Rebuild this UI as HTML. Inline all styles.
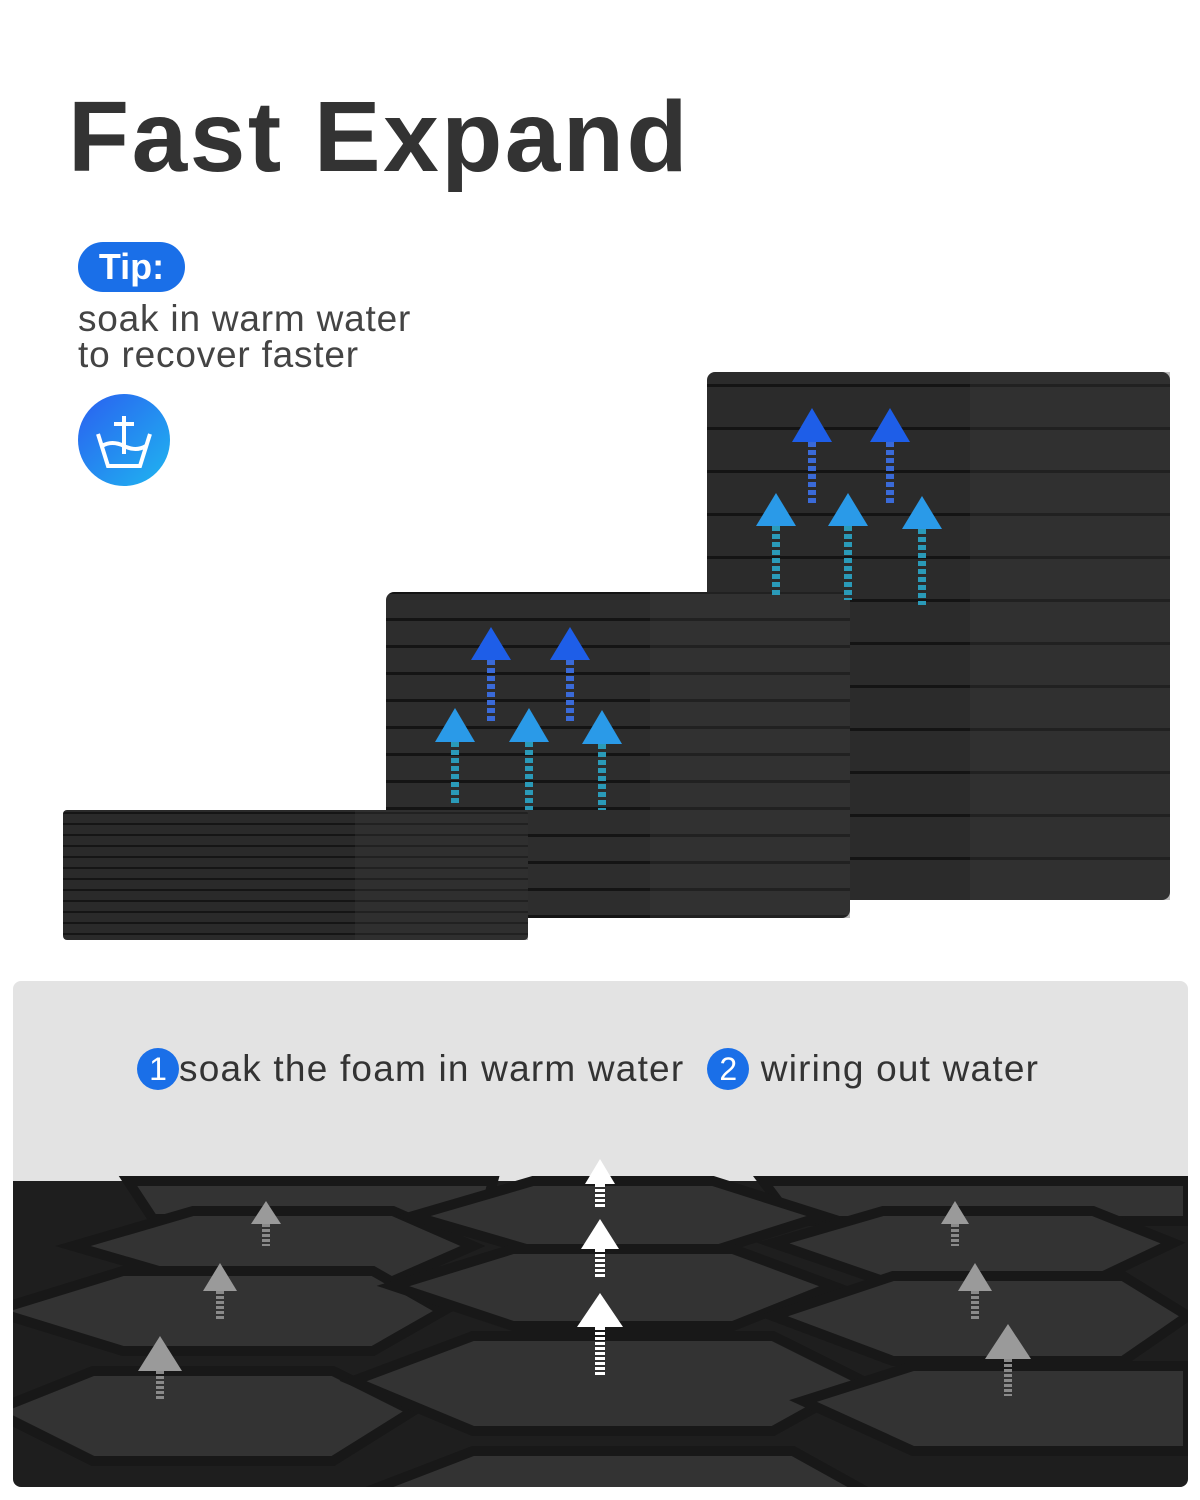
<!DOCTYPE html>
<html><head><meta charset="utf-8"><style>
html,body{margin:0;padding:0;background:#fff;}
body{width:1200px;height:1500px;position:relative;overflow:hidden;font-family:"Liberation Sans",sans-serif;}
.t{position:absolute;}
</style></head><body>
<div class="t" style="left:68px;top:80px;font-size:100px;font-weight:bold;color:#333;letter-spacing:2.5px;">Fast Expand</div>
<div class="t" style="left:78px;top:242px;width:107px;height:50px;border-radius:25px;background:#1a6fe8;color:#fff;font-weight:bold;font-size:36px;line-height:50px;text-align:center;">Tip:</div>
<div class="t" style="left:78px;top:301px;font-size:37px;color:#444;line-height:36px;letter-spacing:0.8px;">soak in warm water<br>to recover faster</div>
<div class="t" style="left:78px;top:394px;width:92px;height:92px;border-radius:50%;background:linear-gradient(135deg,#2a5ff0,#1fb6f0);"></div>
<svg class="t" style="left:78px;top:394px" width="92" height="92"><g fill="none" stroke="#fff" stroke-width="4"><path d="M20 40 L30 72 H62 L72 40"/><path d="M24 52 Q34 46 46 52 Q58 58 68 52"/><path d="M46 22 V60"/><path d="M36 30 H56"/></g></svg>

<svg class="t" style="left:0;top:0" width="1200" height="980">
<defs>
<pattern id="lay" width="10" height="43" patternUnits="userSpaceOnUse"><rect width="10" height="43" fill="#2b2b2b"/><rect y="40" width="10" height="3" fill="#141414"/></pattern>
<pattern id="lay2" width="10" height="27" patternUnits="userSpaceOnUse"><rect width="10" height="27" fill="#2d2d2d"/><rect y="24" width="10" height="3" fill="#141414"/></pattern>
<pattern id="lay3" width="10" height="11" patternUnits="userSpaceOnUse"><rect width="10" height="11" fill="#2a2a2a"/><rect y="9" width="10" height="2" fill="#151515"/></pattern>
</defs>
<rect x="707" y="372" width="463" height="528" rx="8" fill="url(#lay)"/>
<rect x="970" y="372" width="200" height="528" fill="#383838" opacity=".35"/>
<rect x="386" y="592" width="464" height="326" rx="8" fill="url(#lay2)"/>
<rect x="650" y="592" width="200" height="326" fill="#3a3a3a" opacity=".35"/>
<rect x="63" y="810" width="465" height="130" rx="4" fill="url(#lay3)"/>
<rect x="355" y="810" width="173" height="130" fill="#3a3a3a" opacity=".35"/>
<g>
<g fill="#1e5ee8"><polygon points="812,408 792,442 832,442"/><polygon points="890,408 870,442 910,442"/><polygon points="491,627 471,660 511,660"/><polygon points="570,627 550,660 590,660"/></g>
<g fill="#2a9ae8"><polygon points="776,493 756,526 796,526"/><polygon points="848,493 828,526 868,526"/><polygon points="922,496 902,529 942,529"/><polygon points="455,708 435,742 475,742"/><polygon points="529,708 509,742 549,742"/><polygon points="602,710 582,744 622,744"/></g>
<g stroke-dasharray="5,3" stroke-width="8"><path d="M812 442V505M890 442V505M491 660V722M570 660V722" stroke="#3a6ad8"/><path d="M776 526V595M848 526V600M922 529V605M455 742V805M529 742V810M602 744V810" stroke="#2a9ab8"/></g>
</g>
</svg>

<div class="t" style="left:13px;top:981px;width:1175px;height:506px;background:#e3e3e3;border-radius:8px;overflow:hidden;">
<svg width="1175" height="506" style="position:absolute;left:0;top:0">
<rect x="0" y="200" width="1175" height="306" fill="#1e1e1e"/>
<g fill="#333" stroke="#181818" stroke-width="10">
<polygon points="115,200 480,200 470,238 140,238"/>
<polygon points="750,200 1175,200 1175,240 780,240"/>
<polygon points="60,265 180,230 380,230 460,265 380,300 180,300"/>
<polygon points="400,235 520,200 700,200 810,235 700,270 520,270"/>
<polygon points="760,262 870,230 1080,230 1160,262 1080,300 870,300"/>
<polygon points="-20,330 110,290 360,290 430,330 360,370 110,370"/>
<polygon points="380,305 500,268 720,268 820,305 720,345 500,345"/>
<polygon points="760,335 880,295 1110,295 1175,335 1110,380 880,380"/>
<polygon points="-20,430 80,390 320,390 400,430 320,480 80,480"/>
<polygon points="340,400 460,355 760,355 850,400 760,450 460,450"/>
<polygon points="790,420 900,385 1175,385 1175,470 900,470"/>
<polygon points="330,520 460,470 780,470 870,520"/>
</g>
<g fill="#fff"><polygon points="587,178 572,203 602,203"/><polygon points="587,238 568,268 606,268"/><polygon points="587,312 564,346 610,346"/></g>
<g stroke="#fff" stroke-width="10" stroke-dasharray="3,2"><path d="M587 203V228M587 268V298M587 346V395"/></g>
<g fill="#9a9a9a"><polygon points="253,220 238,243 268,243"/><polygon points="207,282 190,310 224,310"/><polygon points="147,355 125,390 169,390"/><polygon points="942,220 928,243 956,243"/><polygon points="962,282 945,310 979,310"/><polygon points="995,343 972,378 1018,378"/></g>
<g stroke="#8a8a8a" stroke-width="8" stroke-dasharray="3,2"><path d="M253 243V265M207 310V340M147 390V420M942 243V265M962 310V338M995 378V415"/></g>
</svg>
<div style="position:absolute;left:124px;top:65px;font-size:37px;color:#333;white-space:nowrap;letter-spacing:1.2px;">
<span style="display:inline-block;width:42px;height:42px;border-radius:50%;background:#1a6fe8;color:#fff;line-height:42px;font-size:32px;vertical-align:middle;text-align:center;letter-spacing:0">1</span><span style="vertical-align:middle">soak the foam in warm water&nbsp;&nbsp;</span><span style="display:inline-block;width:42px;height:42px;border-radius:50%;background:#1a6fe8;color:#fff;line-height:42px;font-size:32px;vertical-align:middle;text-align:center;letter-spacing:0">2</span><span style="vertical-align:middle"> wiring out water</span></div>
</div>
</body></html>
